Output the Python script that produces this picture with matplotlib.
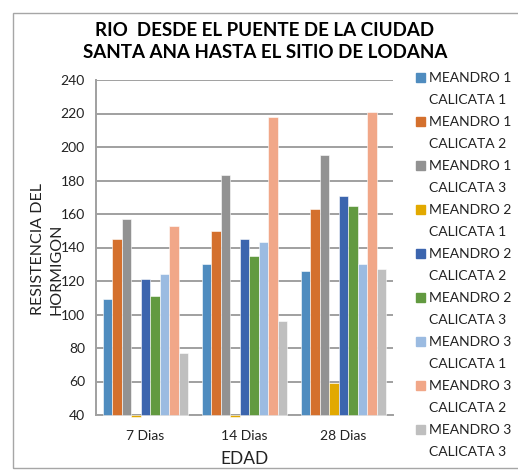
import matplotlib
matplotlib.use("Agg")
import matplotlib.pyplot as plt
from matplotlib.patches import Rectangle
import numpy as np

plt.rcParams['font.family'] = ['Lato', 'DejaVu Sans']

# Data
categories = ["7 Dias", "14 Dias", "28 Dias"]
series = [
    "MEANDRO 1\nCALICATA 1", "MEANDRO 1\nCALICATA 2", "MEANDRO 1\nCALICATA 3",
    "MEANDRO 2\nCALICATA 1", "MEANDRO 2\nCALICATA 2", "MEANDRO 2\nCALICATA 3",
    "MEANDRO 3\nCALICATA 1", "MEANDRO 3\nCALICATA 2", "MEANDRO 3\nCALICATA 3",
]
m1c1 = [109, 130, 126]
m1c2 = [145, 150, 163]
m1c3 = [157, 183, 195]
m2c1 = [39, 39, 59]
m2c2 = [121, 145, 171]
m2c3 = [111, 135, 165]
m3c1 = [124, 143, 130]
m3c2 = [153, 218, 221]
m3c3 = [77, 96, 127]
values = [m1c1, m1c2, m1c3, m2c1, m2c2, m2c3, m3c1, m3c2, m3c3]
colors = ['#4F8CBF', '#D4702D', '#929292', '#E2A900', '#3C65AE',
          '#629A40', '#9BBBE1', '#F1A788', '#BFBFBF']

ymin, ymax = 40, 240

fig = plt.figure(figsize=(5.18, 4.70), dpi=100)
ax = fig.add_axes([96 / 518, 1 - 415 / 470, 297 / 518, 335 / 470])

x = np.arange(len(categories))
n = len(series)
w = 0.86 / n
for i, (vals, c) in enumerate(zip(values, colors)):
    pos = x - 0.43 + w * (i + 0.5)
    h = [v - ymin for v in vals]
    ax.bar(pos, h, bottom=ymin, width=w, color=c, edgecolor='white',
           linewidth=0.4, zorder=3, clip_on=False)

ax.set_xlim(-0.5, 2.5)
ax.set_ylim(ymin, ymax)
ax.set_yticks(np.arange(40, 241, 20))
ax.set_xticks(x)
ax.set_xticklabels(categories, fontsize=10)
ax.tick_params(axis='both', length=0, labelsize=10, colors='#222222')
ax.tick_params(axis='y', pad=8)
ax.tick_params(axis='x', pad=11)
ax.grid(axis='y', color='#A0A0A0', linewidth=1.4, zorder=0)
for s in ['top', 'right']:
    ax.spines[s].set_visible(False)
for s in ['left', 'bottom']:
    ax.spines[s].set_color('#A0A0A0')
    ax.spines[s].set_linewidth(1.4)

ax.set_xlabel("EDAD", fontsize=12.5, labelpad=6, color='#222222')
fig.text(47 / 518, 1 - 249 / 470, "RESISTENCIA DEL\nHORMIGON", rotation=90,
         ha='center', va='center', multialignment='left', fontsize=11.5,
         color='#222222', linespacing=1.45)

fig.text(265 / 518, 1 - 30 / 470, "RIO  DESDE EL PUENTE DE LA CIUDAD",
         ha='center', va='center', fontsize=13.5, fontweight='bold')
fig.text(265 / 518, 1 - 53 / 470, "SANTA ANA HASTA EL SITIO DE LODANA",
         ha='center', va='center', fontsize=13.5, fontweight='bold')

# legend drawn by hand, Excel style (swatch beside first line)
for i, (lab, c) in enumerate(zip(series, colors)):
    y0 = 78 + 44 * i
    fig.patches.append(Rectangle((416 / 518, 1 - (y0 + 4) / 470), 9 / 518, 9 / 470,
                                 transform=fig.transFigure, color=c))
    top, bot = lab.split("\n")
    fig.text(429 / 518, 1 - y0 / 470, top, ha='left', va='center',
             fontsize=10, color='#222222')
    fig.text(429 / 518, 1 - (y0 + 22) / 470, bot, ha='left', va='center',
             fontsize=10, color='#222222')

# chart area border
fig.patches.append(Rectangle((13 / 518, 1 - 468 / 470), 520 / 518, 455 / 470,
                             transform=fig.transFigure, fill=False,
                             edgecolor='#A6A6A6', linewidth=1.0))

fig.savefig("out.png", dpi=100)
